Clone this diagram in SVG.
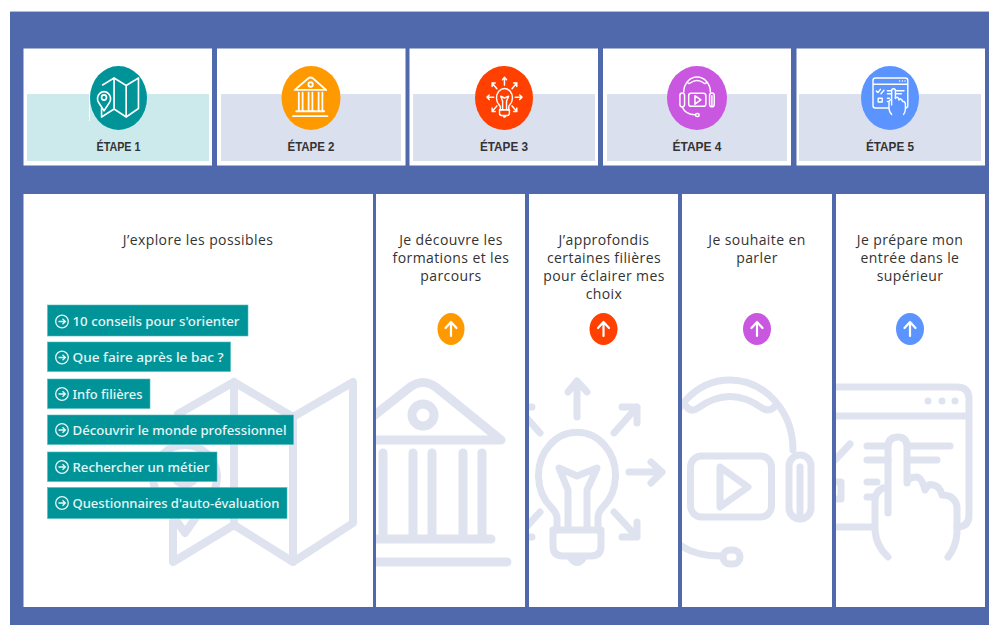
<svg xmlns="http://www.w3.org/2000/svg" xmlns:xlink="http://www.w3.org/1999/xlink" width="989" height="625" viewBox="0 0 989 625">
<style>
.bg{fill:#4f69ac}
.card{fill:#fff}
.tint{fill:#dbe0ee}
.ic{fill:none;stroke-linecap:round;stroke-linejoin:round}
.wm{color:#dfe3f0;stroke:#dfe3f0}
.sm{color:#fff;stroke:#fff}
.lab{font-family:"Liberation Sans",Arial,sans-serif;font-size:12.500px;font-weight:700;fill:#333;text-anchor:middle}
.txt{font-family:"Open Sans","Noto Sans",sans-serif;font-size:14px;letter-spacing:.4px;fill:#333;text-anchor:middle}
.btn{fill:#009499;stroke:#4dbcbf;stroke-width:.6}
.bt{font-family:"Noto Sans",sans-serif;font-size:13px;font-weight:500;fill:#e8f6f6}
.bi{fill:none;stroke:#e8f6f6;stroke-width:1.3}
.up{fill:none;stroke:#fff;stroke-width:2.2;stroke-linecap:round;stroke-linejoin:round}
</style>
<defs>
<g id="i-map" class="ic" stroke-width="8">
<path d="M234 382L293 417L353 382V523L293 562L234 525L173 562V522M234 382L178 414M234 382V525M293 417V562"/>
<path d="M185 533L160 497A32 32 0 1 1 210 497Z"/>
<circle cx="185" cy="472" r="12"/>
</g>
<g id="i-bank" class="ic" stroke-width="9">
<path d="M343 440H501L437 388Q423 377 409 388Z" stroke-width="9"/>
<circle cx="423" cy="415" r="11"/>
<path d="M364 453V537M383 453V537M413 453V537M432 453V537M463 453V537M482 453V537M351 539H491M335 562H507"/>
</g>
<g id="i-bulb" class="ic" stroke-width="7">
<path d="M557 530V517Q556 512 551 507A38.500 43 0 1 1 603 507Q598 512 598 517V530"/>
<path d="M553 530H601V546Q601 556 591 556H563Q553 556 553 546ZM570 557Q577 568 584 557"/>
<path d="M568 527V490L559 468L577 476L597 468L587 490V527"/>
<path d="M577 417V382M568 392L577 381L587 392M614 433L637 407M622 407H637V423M629 472H662M651 462L662 472L651 483M614 512L637 537M637 522V537H622"/>
<path d="M540 433L517 407M532 407H517V423M525 472H492M503 462L492 472L503 483M540 512L517 537M517 522V537H532"/>
</g>
<g id="i-head" class="ic" stroke-width="7">
<path d="M793 450V450A63 70 0 0 0 667 450"/>
<path d="M686 406Q691 413 698 408Q730 385 762 408Q770 413 776 405"/>
<rect x="690.500" y="456" width="81" height="61" rx="11"/>
<path d="M720 467L748 487L720 507Z"/>
<rect x="789" y="455" width="22" height="64" rx="11"/>
<path d="M800 467V517"/>
<rect x="649" y="455" width="22" height="64" rx="11"/>
<path d="M660 520Q676 556 720 556"/>
<rect x="723" y="550" width="17" height="14" rx="7"/>
</g>
<g id="i-hand" class="ic" stroke-width="7">
<path d="M872 527H807Q795 527 795 515V399Q795 387 807 387H957Q969 387 969 399V515Q969 527 957 527M795 416H969"/>
<path d="M867 446H888M908 446H950M867 460H888M908 460H937M867 482H877M867 497H873"/>
<path d="M812 448L820 455L832 440M850 444L835 460"/>
<rect x="821" y="482" width="20" height="17"/>
<path d="M888 513V447Q888 437 898 437Q907 437 907 447V483Q907 477 917 477Q922 478 925 490Q928 483 933 485Q940 486 942 495Q955 495 957 507V533Q956 547 948 557M883 488Q875 492 875 500V530Q876 546 888 557"/>
<g stroke="none"><circle cx="928" cy="401" r="3.500" fill="currentColor"/><circle cx="942" cy="401" r="3.500" fill="currentColor"/><circle cx="955" cy="401" r="3.500" fill="currentColor"/></g>
</g>
<g id="i-btn"><circle cx="0" cy="0" r="6.300" class="bi"/><path d="M-3.500 0H3M.5-2.800L3.400 0L.5 2.800" class="bi"/></g>
<clipPath id="c2"><rect x="376" y="194" width="149" height="413"/></clipPath>
<clipPath id="c3"><rect x="529" y="194" width="149" height="413"/></clipPath>
<clipPath id="c4"><rect x="682" y="194" width="150" height="413"/></clipPath>
<clipPath id="c5"><rect x="836" y="194" width="149" height="413"/></clipPath>
</defs>
<rect width="989" height="625" fill="#fff"/>
<rect x="10" y="11" width="979" height="614" class="bg"/>
<rect x="10" y="11" width="979" height="1" fill="#b9bcc4"/>

<g id="etape1">
<rect class="card" x="23.500" y="48.500" width="188.500" height="117"/>
<rect x="27" y="94" width="182" height="67" fill="#cce9eb"/>
<rect x="89" y="94" width="1" height="27" fill="#fff"/>
<ellipse cx="118.500" cy="98" rx="28.500" ry="32" fill="#009499"/>
<use xlink:href="#i-map" href="#i-map" class="sm" transform="translate(66.100 -4.900) scale(.205 .217)"/>
<text class="lab" x="118.500" y="151" textLength="44" lengthAdjust="spacingAndGlyphs">ÉTAPE 1</text>
</g>
<g id="etape2">
<rect class="card" x="217" y="48.500" width="188.500" height="117"/>
<rect class="tint" x="221" y="94" width="180" height="67"/>
<ellipse cx="311" cy="98" rx="29.500" ry="32" fill="#ff9900"/>
<use xlink:href="#i-bank" href="#i-bank" class="sm" transform="translate(226 -4.700) scale(.2 .215)"/>
<text class="lab" x="311" y="151" textLength="47" lengthAdjust="spacingAndGlyphs">ÉTAPE 2</text>
</g>
<g id="etape3">
<rect class="card" x="409.500" y="48.500" width="188.500" height="117"/>
<rect class="tint" x="413" y="94" width="182" height="67"/>
<ellipse cx="504" cy="98" rx="29" ry="32" fill="#ff4000"/>
<use xlink:href="#i-bulb" href="#i-bulb" class="sm" transform="translate(385.600 -6.200) scale(.206 .219)"/>
<text class="lab" x="504" y="151" textLength="48" lengthAdjust="spacingAndGlyphs">ÉTAPE 3</text>
</g>
<g id="etape4">
<rect class="card" x="603" y="48.500" width="188" height="117"/>
<rect class="tint" x="607" y="94" width="180" height="67"/>
<ellipse cx="697" cy="98" rx="30" ry="32" fill="#c957e0"/>
<use xlink:href="#i-head" href="#i-head" class="sm" transform="translate(542.300 -4.300) scale(.212 .214)"/>
<text class="lab" x="697" y="151" textLength="49" lengthAdjust="spacingAndGlyphs">ÉTAPE 4</text>
</g>
<g id="etape5">
<rect class="card" x="796.500" y="48.500" width="188.500" height="117"/>
<rect class="tint" x="799" y="94" width="182" height="67"/>
<ellipse cx="890" cy="98" rx="29" ry="32" fill="#5c94ff"/>
<use xlink:href="#i-hand" href="#i-hand" class="sm" transform="translate(714 -4.800) scale(.2 .214)"/>
<text class="lab" x="890" y="151" textLength="48" lengthAdjust="spacingAndGlyphs">ÉTAPE 5</text>
</g>

<g id="col1">
<rect class="card" x="23.500" y="194" width="349.500" height="413"/>
<use xlink:href="#i-map" href="#i-map" class="wm"/>
<text class="txt" x="198" y="245">J’explore les possibles</text>
<g id="btn1"><rect class="btn" x="47.500" y="305" width="200.500" height="31"/><use xlink:href="#i-btn" href="#i-btn" x="62" y="321.500"/><text class="bt" x="72.500" y="326" textLength="167" lengthAdjust="spacingAndGlyphs">10 conseils pour s'orienter</text></g>
<g id="btn2"><rect class="btn" x="47.500" y="342" width="183" height="29.500"/><use xlink:href="#i-btn" href="#i-btn" x="62" y="357.500"/><text class="bt" x="72.500" y="362" textLength="151" lengthAdjust="spacingAndGlyphs">Que faire après le bac ?</text></g>
<g id="btn3"><rect class="btn" x="47.500" y="379" width="102.500" height="29.500"/><use xlink:href="#i-btn" href="#i-btn" x="62" y="394"/><text class="bt" x="72.500" y="399" textLength="70" lengthAdjust="spacingAndGlyphs">Info filières</text></g>
<g id="btn4"><rect class="btn" x="47.500" y="415" width="246" height="29.500"/><use xlink:href="#i-btn" href="#i-btn" x="62" y="430"/><text class="bt" x="72.500" y="435" textLength="214" lengthAdjust="spacingAndGlyphs">Découvrir le monde professionnel</text></g>
<g id="btn5"><rect class="btn" x="47.500" y="452" width="169.500" height="29.500"/><use xlink:href="#i-btn" href="#i-btn" x="62" y="467"/><text class="bt" x="72.500" y="472" textLength="137" lengthAdjust="spacingAndGlyphs">Rechercher un métier</text></g>
<g id="btn6"><rect class="btn" x="47.500" y="487.500" width="239.500" height="31"/><use xlink:href="#i-btn" href="#i-btn" x="62" y="503"/><text class="bt" x="72.500" y="508" textLength="207" lengthAdjust="spacingAndGlyphs">Questionnaires d'auto-évaluation</text></g>
</g>
<g id="col2">
<rect class="card" x="376" y="194" width="149" height="413"/>
<g clip-path="url(#c2)"><use xlink:href="#i-bank" href="#i-bank" class="wm"/></g>
<text class="txt" x="451" y="245">Je découvre les</text>
<text class="txt" x="451" y="263">formations et les</text>
<text class="txt" x="451" y="281">parcours</text>
<ellipse cx="451" cy="329" rx="13.500" ry="16" fill="#ff9900"/>
<path class="up" d="M451 336V322M445.500 328L451 322L456.500 328"/>
</g>
<g id="col3">
<rect class="card" x="529" y="194" width="149" height="413"/>
<g clip-path="url(#c3)"><use xlink:href="#i-bulb" href="#i-bulb" class="wm"/></g>
<text class="txt" x="604" y="245">J’approfondis</text>
<text class="txt" x="604" y="263">certaines filières</text>
<text class="txt" x="604" y="281">pour éclairer mes</text>
<text class="txt" x="604" y="299">choix</text>
<ellipse cx="603.500" cy="329" rx="14" ry="16" fill="#ff4000"/>
<path class="up" d="M603.500 336V322M598 328L603.500 322L609 328"/>
</g>
<g id="col4">
<rect class="card" x="682" y="194" width="150" height="413"/>
<g clip-path="url(#c4)"><use xlink:href="#i-head" href="#i-head" class="wm"/></g>
<text class="txt" x="757" y="245">Je souhaite en</text>
<text class="txt" x="757" y="263">parler</text>
<ellipse cx="757" cy="329" rx="14" ry="16" fill="#c957e0"/>
<path class="up" d="M757 336V322M751.500 328L757 322L762.500 328"/>
</g>
<g id="col5">
<rect class="card" x="836" y="194" width="149" height="413"/>
<g clip-path="url(#c5)"><use xlink:href="#i-hand" href="#i-hand" class="wm"/></g>
<text class="txt" x="910" y="245">Je prépare mon</text>
<text class="txt" x="910" y="263">entrée dans le</text>
<text class="txt" x="910" y="281">supérieur</text>
<ellipse cx="910" cy="329" rx="14" ry="16" fill="#5c94ff"/>
<path class="up" d="M910 336V322M904.500 328L910 322L915.500 328"/>
</g>
</svg>
